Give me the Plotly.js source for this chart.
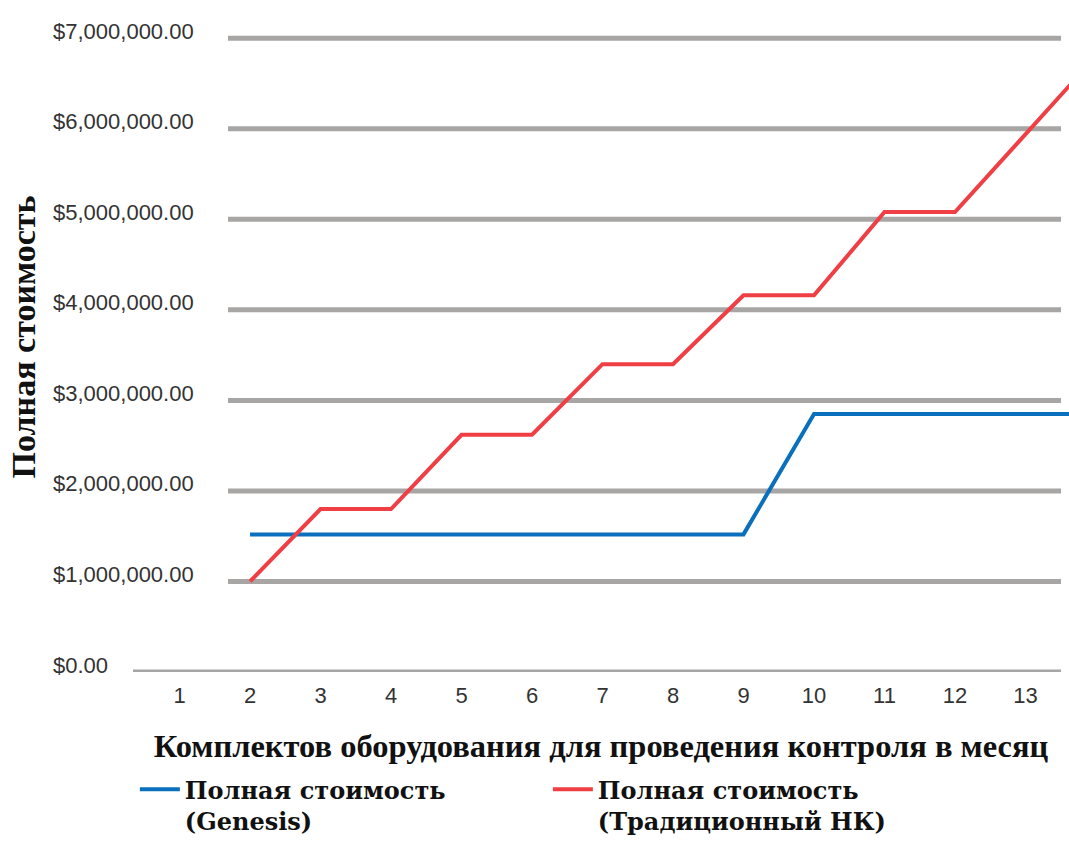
<!DOCTYPE html>
<html>
<head>
<meta charset="utf-8">
<script src="https://cdn.plot.ly/plotly-3.0.1.min.js"></script>
<style>html,body{margin:0;padding:0;background:#fff}</style>
</head>
<body>
<div id="chart" style="width:1069px;height:841px"></div>
<script>
// --- data ---
const kits = [2, 3, 4, 5, 6, 7, 8, 9, 10, 11, 12, 13, 14];
const genesisCost = [1520000, 1520000, 1520000, 1520000, 1520000, 1520000, 1520000, 1520000,
                     2850000, 2850000, 2850000, 2850000, 2850000];
const traditionalCost = [1000000, 1800000, 1800000, 2620000, 2620000, 3400000, 3400000,
                         4160000, 4160000, 5080000, 5080000, 5950000, 6800000];
const xTickVals = [1, 2, 3, 4, 5, 6, 7, 8, 9, 10, 11, 12, 13];
const xTickText = ['1', '2', '3', '4', '5', '6', '7', '8', '9', '10', '11', '12', '13'];
const yTickVals = [0, 1000000, 2000000, 3000000, 4000000, 5000000, 6000000, 7000000];
const yTickText = ['$0.00', '$1,000,000.00', '$2,000,000.00', '$3,000,000.00',
                   '$4,000,000.00', '$5,000,000.00', '$6,000,000.00', '$7,000,000.00'];
const seriesNames = ['Полная стоимость<br>(Genesis)', 'Полная стоимость<br>(Традиционный НК)'];
const xTitle = 'Комплектов оборудования для проведения контроля в месяц';
const yTitle = 'Полная стоимость';

const serif = 'Liberation Serif';
const legendSerif = 'DejaVu Serif';
const sans = 'Liberation Sans';

const traces = [
  {x: kits, y: genesisCost, type: 'scatter', mode: 'lines', name: seriesNames[0],
   line: {color: '#0a6fbd', width: 4}},
  {x: kits, y: traditionalCost, type: 'scatter', mode: 'lines', name: seriesNames[1],
   line: {color: '#ef3f45', width: 4}}
];

const gridShapes = yTickVals.map(v => ({
  type: 'line', xref: 'paper', yref: 'y', layer: 'below',
  x0: v === 0 ? 0 : 0.1015, x1: 0.9915, y0: v, y1: v,
  line: {color: '#a8a5a5', width: 5}
}));

const tickAnnotations = yTickVals.map((v, i) => ({
  xref: 'paper', yref: 'y', x: -0.0876, y: v, xanchor: 'left', yanchor: 'middle',
  yshift: 7, showarrow: false, text: yTickText[i],
  font: {family: sans, size: 22, color: '#333333'}
}));

const layout = {
  width: 1069, height: 841,
  margin: {l: 133, r: 0, t: 2, b: 169, autoexpand: false},
  paper_bgcolor: '#ffffff', plot_bgcolor: '#ffffff',
  font: {family: sans, color: '#333333'},
  showlegend: true,
  legend: {
    orientation: 'h', x: 0.002, xanchor: 'left', y: -0.142, yanchor: 'top',
    bgcolor: 'rgba(0,0,0,0)',
    font: {family: legendSerif, size: 24, color: '#111111', weight: 'bold'},
    entrywidth: 358, valign: 'top', itemwidth: 40, tracegroupgap: 0
  },
  xaxis: {
    range: [0.34, 13.617], tickmode: 'array', tickvals: xTickVals, ticktext: xTickText,
    showgrid: false, zeroline: false, showline: false, ticks: '', automargin: false,
    ticklabelstandoff: 8,
    tickfont: {family: sans, size: 22, color: '#333333'},
    title: {text: xTitle, standoff: 27,
            font: {family: serif, size: 32.5, color: '#111111', weight: 'bold'}}
  },
  yaxis: {
    range: [0, 7400000], tickmode: 'array', tickvals: yTickVals, ticktext: yTickText,
    showticklabels: false, showgrid: false, zeroline: false, showline: false, ticks: '',
    automargin: false,
    title: {text: yTitle, standoff: 86,
            font: {family: serif, size: 34, color: '#111111', weight: 'bold'}}
  },
  shapes: gridShapes,
  annotations: tickAnnotations
};

Plotly.newPlot('chart', traces, layout, {displayModeBar: false, staticPlot: true});
</script>
</body>
</html>
